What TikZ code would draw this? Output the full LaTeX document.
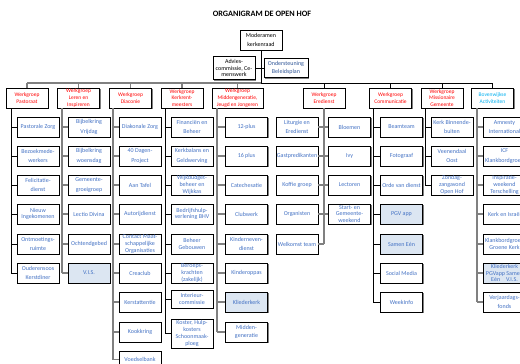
\documentclass[tikz,border=0pt]{standalone}
\usepackage{fontspec}
\setmainfont{Carlito}
\usetikzlibrary{shadows}
\definecolor{tblue}{RGB}{68,114,196}
\definecolor{tred}{RGB}{255,0,0}
\definecolor{lblue}{RGB}{0,176,240}
\definecolor{bfill}{RGB}{220,230,242}
\definecolor{cgray}{RGB}{128,128,128}
\definecolor{dblue}{RGB}{47,85,151}
\tikzset{
  box/.style={draw=black, line width=0.7pt, fill=white, align=center, inner sep=0.5pt,
    minimum width=42pt, minimum height=20pt,
    drop shadow={shadow xshift=1.3pt, shadow yshift=-1.3pt, fill=cgray, opacity=1}},
  sub/.style={box, text=tblue, font=\fontsize{6}{9.5}\selectfont},
  subt/.style={box, text=tblue, font=\fontsize{6}{6.8}\selectfont},
  hdr/.style={box, text=tred, font=\fontsize{5.5}{6.8}\selectfont},
  hl/.style={fill=bfill},
  cb/.style={draw=black, line width=0.8pt},
  cg/.style={draw=cgray, line width=1.2pt},
}
\begin{document}
\begin{tikzpicture}[x=1pt,y=-1pt]
\useasboundingbox (0,0) rectangle (520,364);
\node[font=\bfseries\fontsize{8.2}{10}\selectfont] (title) at (262,14) {ORGANIGRAM DE OPEN HOF};
\node[box, font=\fontsize{6}{9}\selectfont] (mod) at (261,40) {Moderamen\\kerkenraad};
\node[box, font=\fontsize{6}{6.8}\selectfont, minimum height=23pt] (adv) at (234,68) {Advies-\\commissie, Ce-\\menswerk};
\node[box, text=dblue, font=\fontsize{6}{8}\selectfont, minimum width=44pt, minimum height=19pt] (ond) at (286,68) {Ondersteuning\\Beleidsplan};
\coordinate (bus) at (261,83);
% headers
\node[hdr] (h1) at (27,98) {Werkgroep\\Pastoraat};
\node[hdr] (h2) at (78.5,98) {Werkgroep\\Leren en\\Inspireren};
\node[hdr] (h3) at (130.5,98) {Werkgroep\\Diaconie};
\node[hdr] (h4) at (182,98) {Werkgroep\\Kerkrent-\\meesters};
\node[hdr, minimum width=51pt] (h5) at (237.5,98) {Werkgroep\\Middengeneratie,\\Jeugd en Jongeren};
\node[hdr] (h6) at (324,98) {Werkgroep\\Eredienst};
\node[hdr] (h7) at (390.5,98) {Werkgroep\\Communicatie};
\node[hdr] (h8) at (442,98) {Werkgroep\\Missionaire\\Gemeente};
\node[hdr, text=lblue] (h9) at (492.5,98) {Bovenwijkse\\Activiteiten};
% column 1
\node[sub] (a1) at (38,127) {Pastorale Zorg};
\node[sub] (a2) at (38,156) {Bezoekmede-\\werkers};
\node[sub] (a3) at (38,185) {Felicitatie-\\dienst};
\node[subt] (a4) at (38,214) {Nieuw\\Ingekomenen};
\node[sub] (a5) at (38,244) {Ontmoetings-\\ruimte};
\node[sub] (a6) at (38,273) {Ouderensoos\\Kerstdiner};
% column 2
\node[sub] (b1) at (89,127) {Bijbelkring\\Vrijdag};
\node[sub] (b2) at (89,156) {Bijbelkring\\woensdag};
\node[sub] (b3) at (89,185) {Gemeente-\\groeigroep};
\node[sub] (b4) at (89,214) {Lectio Divina};
\node[sub] (b5) at (89,244) {Ochtendgebed};
\node[sub, hl] (b6) at (89,273) {V.I.S.};
% column 3
\node[sub] (c1) at (140,127) {Diakonale Zorg};
\node[sub] (c2) at (140,156) {40 Dagen-\\Project};
\node[sub] (c3) at (140,185) {Aan Tafel};
\node[sub] (c4) at (140,214) {Autorijdienst};
\node[subt] (c5) at (140,244) {Contact Maat-\\schappelijke\\Organisaties};
\node[sub] (c6) at (140,273) {Creaclub};
\node[sub] (c7) at (140,302) {Kerstattentie};
\node[sub] (c8) at (140,332) {Kookkring};
\node[sub, minimum height=16pt] (c9) at (140,359.5) {Voedselbank};
% column 4
\node[sub] (d1) at (192,127) {Financiën en\\Beheer};
\node[sub] (d2) at (192,156) {Kerkbalans en\\Geldwerving};
\node[subt] (d3) at (192,185) {Wijkbudget-\\beheer en\\Wijkkas};
\node[subt] (d4) at (192,214) {Bedrijfshulp-\\verlening BHV};
\node[subt] (d5) at (192,244) {Beheer\\Gebouwen};
\node[subt] (d6) at (192,273) {Beroeps-\\krachten\\(zakelijk)};
\node[subt, minimum height=18pt, font=\fontsize{6}{7.7}\selectfont] (d7) at (192,299) {Interieur-\\commissie};
\node[subt, minimum height=29pt] (d8) at (192,333.5) {Koster, Hulp-\\kosters\\Schoonmaak-\\ploeg};
% column 5
\node[sub] (e1) at (246.5,127) {12-plus};
\node[sub] (e2) at (246.5,156) {16 plus};
\node[sub] (e3) at (246.5,185) {Catechesatie};
\node[sub] (e4) at (246.5,214) {Clubwerk};
\node[sub] (e5) at (246.5,244) {Kinderneven-\\dienst};
\node[sub] (e6) at (246.5,273) {Kinderoppas};
\node[sub, hl] (e7) at (246.5,302) {Kliederkerk};
\node[subt, font=\fontsize{6}{7.5}\selectfont] (e8) at (246.5,332) {Midden-\\generatie};
% column 6
\node[sub] (f1) at (297,127) {Liturgie en\\Eredienst};
\node[sub] (f2) at (297,156) {Gastpredikanten};
\node[sub] (f3) at (297,185) {Koffie groep};
\node[sub] (f4) at (297,214) {Organisten};
\node[sub] (f5) at (297,244) {Welkomst team};
\node[sub] (g1) at (349.5,127) {Bloemen};
\node[sub] (g2) at (349.5,156) {Ivy};
\node[sub] (g3) at (349.5,185) {Lectoren};
\node[subt] (g4) at (349.5,214) {Start- en\\Gemeente-\\weekend};
% column 7
\node[sub] (k1) at (401.5,127) {Beamteam};
\node[sub] (k2) at (401.5,156) {Fotograaf};
\node[sub] (k3) at (401.5,185) {Orde van dienst};
\node[sub, hl] (k4) at (401.5,214) {PGV app};
\node[sub, hl] (k5) at (401.5,244) {Samen Eén};
\node[sub] (k6) at (401.5,273) {Social Media};
\node[sub] (k7) at (401.5,302) {WeekInfo};
% column 8
\node[sub] (m1) at (452,127) {Kerk Binnende-\\buiten};
\node[sub] (m2) at (452,156) {Veenendaal\\Oost};
\node[subt] (m3) at (452,185) {Zondag-\\zangavond\\Open Hof};
% column 9
\node[sub] (n1) at (504.5,127) {Amnesty\\International};
\node[sub] (n2) at (504.5,156) {ICF\\Klankbordgroep};
\node[subt] (n3) at (504.5,185) {Inspiratie-\\weekend\\Terschelling};
\node[sub] (n4) at (504.5,214) {Kerk en Israël};
\node[subt, font=\fontsize{6}{7.5}\selectfont] (n5) at (504.5,244) {Klankbordgroep\\Groene Kerk};
\node[subt, hl] (n6) at (504.5,273) {Kliederkerk\\PGVapp Samen\\Eén\quad V.I.S.};
\node[sub] (n7) at (504.5,302) {Verjaardags-\\fonds};
% top connectors
\draw[cb, line width=1pt] (mod.south) -- (bus);
\draw[cb] (adv.east) -- (ond.west);
\draw[cg] (h1.north |- bus) -- (bus);
\draw[cb] (bus) -- (h9.north |- bus);
\foreach \h in {h1,h2,h3,h4,h5} \draw[cg] (\h.north) -- (\h.north |- bus);
\foreach \h in {h6,h7,h8,h9} \draw[cb] (\h.north) -- (\h.north |- bus);
% column verticals
\coordinate (v1) at (11,108);
\coordinate (v2) at (62,108);
\coordinate (v3) at (113,108);
\coordinate (v4) at (165,108);
\coordinate (v5) at (217,108);
\coordinate (v6) at (324,108);
\coordinate (v7) at (373,108);
\coordinate (v8) at (425,108);
\coordinate (v9) at (477,108);
\draw[cb] (v1) -- (v1 |- a6.west);
\foreach \n in {a1,a2,a3,a4,a5,a6} \draw[cb] (\n.west) -- (\n.west -| v1);
\draw[cg] (v2) -- (v2 |- b6.west);
\foreach \n in {b1,b2,b3,b4,b5,b6} \draw[cg] (\n.west) -- (\n.west -| v2);
\draw[cg] (v3) -- (v3 |- c9.west);
\foreach \n in {c1,c2,c3,c4,c5,c6,c7,c8,c9} \draw[cg] (\n.west) -- (\n.west -| v3);
\draw[cb] (v4) -- (v4 |- d8.west);
\foreach \n in {d1,d2,d3,d4,d5,d6,d7,d8} \draw[cb] (\n.west) -- (\n.west -| v4);
\draw[cg] (v5) -- (v5 |- e8.west);
\foreach \n in {e1,e2,e3,e4,e5,e6,e7,e8} \draw[cg] (\n.west) -- (\n.west -| v5);
\draw[cg] (v6) -- (v6 |- f5.east);
\foreach \n in {f1,f2,f3,f4,f5} \draw[cg] (\n.east) -- (\n.east -| v6);
\foreach \n in {g1,g2,g3,g4} \draw[cg] (\n.west) -- (\n.west -| v6);
\draw[cb] (v7) -- (v7 |- k7.west);
\foreach \n in {k1,k2,k3,k4,k5,k6,k7} \draw[cb] (\n.west) -- (\n.west -| v7);
\draw[cb] (v8) -- (v8 |- m3.west);
\foreach \n in {m1,m2,m3} \draw[cb] (\n.west) -- (\n.west -| v8);
\draw[cg] (v9) -- (v9 |- n7.west);
\foreach \n in {n1,n2,n3,n4,n5,n6,n7} \draw[cg] (\n.west) -- (\n.west -| v9);
\end{tikzpicture}
\end{document}
